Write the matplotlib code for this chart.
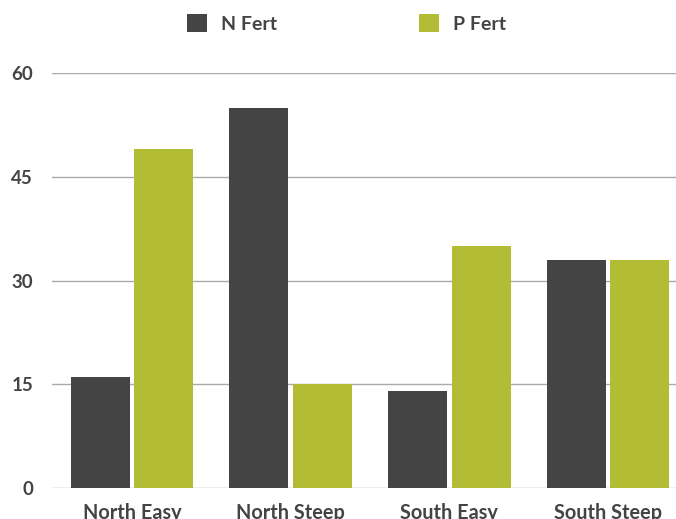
import matplotlib.pyplot as plt
import numpy as np

categories = ['North Easy', 'North Steep', 'South Easy', 'South Steep']
n_fert = [16, 55, 14, 33]
p_fert = [49, 15, 35, 33]
y_ticks = [0, 15, 30, 45, 60]

dark = '#444444'
green = '#b3bc35'
text_col = '#444444'

plt.rcParams['font.family'] = ['Lato', 'DejaVu Sans']

fig = plt.figure(figsize=(6.76, 5.19), dpi=100)
ax = fig.add_axes([52.5 / 676, 31 / 519, 635 / 676, 415 / 519])

x = np.arange(len(categories))
w = 0.372
ax.bar(x - 0.2, n_fert, width=w, color=dark, label='N Fert', zorder=3)
ax.bar(x + 0.2, p_fert, width=w, color=green, label='P Fert', zorder=3)

ax.set_xlim(-0.5, 3.5)
ax.set_ylim(0, 60)
ax.set_yticks(y_ticks)
ax.set_xticks(x)
ax.set_xticklabels(categories)
ax.grid(axis='y', color='#aaaaaa', linewidth=1, zorder=0)
for s in ax.spines.values():
    s.set_visible(False)
ax.tick_params(axis='y', length=0, pad=14, labelsize=13.5, labelcolor=text_col)
ax.tick_params(axis='x', length=0, pad=11, labelsize=14.3, labelcolor=text_col)
for lab in ax.get_xticklabels() + ax.get_yticklabels():
    lab.set_fontweight('bold')

leg = fig.legend(loc='upper left', bbox_to_anchor=(187 / 676, 1 - 14 / 519), ncol=2,
                 frameon=False, fontsize=14, handlelength=1.03, handleheight=1.03,
                 handletextpad=0.72, columnspacing=7.3, borderpad=0, borderaxespad=0)
for t in leg.get_texts():
    t.set_color(text_col)
    t.set_fontweight('bold')

fig.savefig('out.png', dpi=100)
